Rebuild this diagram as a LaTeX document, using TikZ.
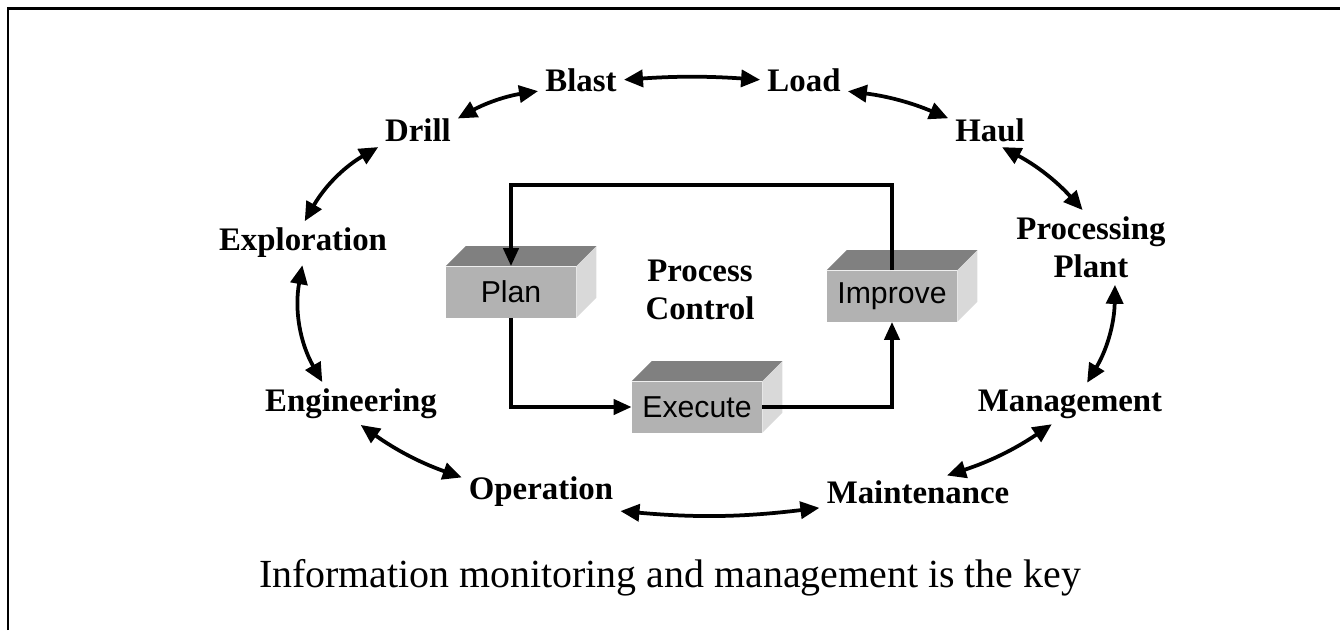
\documentclass[tikz,border=0pt]{standalone}
\usepackage{fontspec}
\setmainfont{Liberation Serif}
\setsansfont{Liberation Sans}
\usepackage{tikz}
\usetikzlibrary{arrows.meta}
\definecolor{boxfront}{rgb}{0.70, 0.70, 0.70}
\definecolor{boxtop}{rgb}{0.50, 0.50, 0.50}
\definecolor{boxside}{rgb}{0.85, 0.85, 0.85}
% top and right faces of a block
\newcommand{\boxfaces}[1]{%
\fill[boxtop] (#1.north west) -- ([shift={(20,-20)}]#1.north west) -- ([shift={(20,-20)}]#1.north east) -- (#1.north east) -- cycle;
\fill[boxside] (#1.north east) -- ([shift={(20,-20)}]#1.north east) -- ([shift={(20,-20)}]#1.south east) -- (#1.south east) -- cycle;}

\begin{document}
\begin{tikzpicture}[x=0.02cm, y=-0.02cm,
  stage/.style={font=\bfseries\fontsize{18.7}{21.5}\selectfont, inner sep=2pt, align=center},
  block/.style={fill=boxfront, minimum width=2.6cm, minimum height=1.02cm, inner sep=0pt, font=\sffamily\fontsize{17.2}{20}\selectfont},
  ring/.style={line width=0.075cm, shorten <=2pt, shorten >=2pt, {Triangle[length=0.38cm,width=0.34cm]}-{Triangle[length=0.38cm,width=0.34cm]}},
  flow/.style={line width=0.08cm, -{Triangle[length=0.36cm,width=0.3cm]}}]
\useasboundingbox (0,0) rectangle (1340,630);
%\draw [very thin, gray] (0,0) grid[step=50] (1340,630);
\draw[line width=0.06cm] (8,630) -- (8,8) -- (1340,8);

\node[stage] (blast) at (581,80) {Blast};
\node[stage] (load) at (804,80) {Load};
\node[stage] (haul) at (990,130) {Haul};
\node[stage] (plant) at (1091,247) {Processing\\Plant};
\node[stage] (management) at (1070,404) {Management};
\node[stage] (maintenance) at (918,492) {Maintenance};
\node[stage] (operation) at (541,492) {Operation};
\node[stage] (engineering) at (351,404) {Engineering};
\node[stage] (exploration) at (303,243) {Exploration};
\node[stage] (drill) at (418,130) {Drill};

\draw[ring] (exploration.north) to[bend left=15] (drill.south west);
\draw[ring] (drill.15) to[bend left=10] (blast.195);
\draw[ring] (blast.east) to[bend left=4] (load.west);
\draw[ring] (load.-15) to[bend left=8] (haul.165);
\draw[ring] (haul.-60) to[bend left=10] (plant.100);
\draw[ring] (plant.-55) to[bend left=15] (management.50);
\draw[ring] (management.-130) to[bend left=8] (maintenance.31);
\draw[ring] (maintenance.south west) to[bend left=6] (operation.south east);
\draw[ring] (operation.170) to[bend left=8] (engineering.-70);
\draw[ring] (engineering.145) to[bend left=20] (exploration.south);

\node[block] (plan) at (511,292) {Plan};
\boxfaces{plan}
\node[block] (execute) at (697,407) {Execute};
\boxfaces{execute}
\node[block] (improve) at (892,296) {Improve};
\boxfaces{improve}
\node[stage] (control) at (700,290) {Process\\Control};

\draw[flow] (improve.north) -- ++(0,-85) -| (plan.north);
\draw[flow] (plan.south) |- (execute.west);
\draw[flow] (execute.east) -| (improve.south);

\node[font=\fontsize{22.7}{27}\selectfont] (key) at (670,578) {Information monitoring and management is the key};
\end{tikzpicture}
\end{document}
